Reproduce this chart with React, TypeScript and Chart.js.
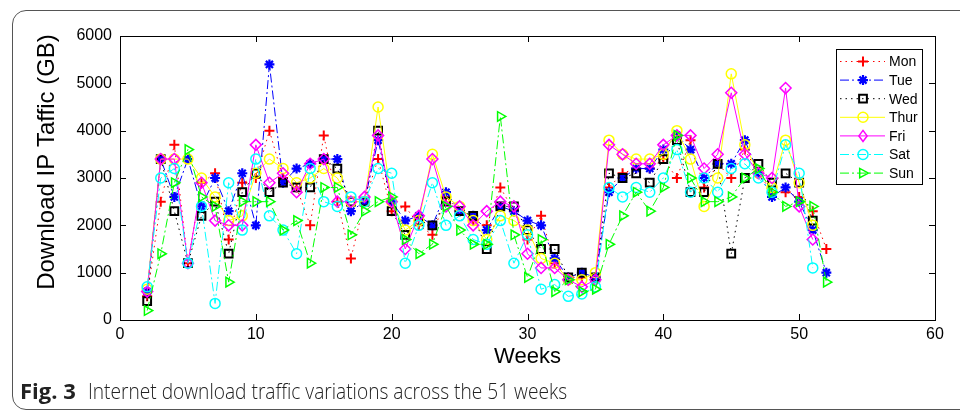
import React, { useEffect, useRef } from "react";
import { Chart, registerables } from "chart.js";

Chart.register(...registerables);

const weeks = [2, 3, 4, 5, 6, 7, 8, 9, 10, 11, 12, 13, 14, 15, 16, 17, 18, 19, 20, 21, 22, 23, 24, 25, 26, 27, 28, 29, 30, 31, 32, 33, 34, 35, 36, 37, 38, 39, 40, 41, 42, 43, 44, 45, 46, 47, 48, 49, 50, 51, 52];

const mon = [500, 2500, 3700, 1200, 2900, 3100, 1700, 2900, 3000, 4000, 3000, 2800, 2000, 3900, 2500, 1300, 2500, 3400, 2300, 2400, 2000, 1800, 2600, 2300, 2100, 2000, 2800, 2300, 1700, 2200, 1200, 900, 900, 900, 2800, 3100, 3200, 3200, 3400, 3000, 3800, 2800, 3300, 3000, 3600, 3100, 2700, 2700, 2600, 2300, 1500];
const tue = [600, 3400, 2600, 3400, 2400, 3000, 2300, 3100, 2000, 5400, 2900, 3200, 3300, 3400, 3400, 2300, 2500, 3800, 2500, 2100, 2200, 2000, 2700, 2300, 2200, 1900, 2400, 2300, 2100, 2000, 1300, 900, 1000, 900, 2700, 3000, 3200, 3200, 3600, 3900, 3600, 3000, 3300, 3300, 3800, 3100, 2600, 2800, 2500, 1900, 1000];
const wed = [400, 3400, 2300, 1200, 2200, 2500, 1400, 2700, 3100, 2700, 2900, 2800, 2800, 3400, 3200, 2500, 2500, 4000, 2300, 1800, 2100, 2000, 2500, 2300, 2200, 1500, 2400, 2400, 1900, 1500, 1500, 900, 1000, 900, 3100, 3000, 3100, 2900, 3400, 3800, 2700, 2700, 3300, 1400, 3000, 3300, 2900, 3100, 2900, 2100, null];
const thur = [650, 3400, 3400, 3400, 3000, 2600, 2100, 2200, 3100, 3400, 3200, 2900, 3000, 3200, 3000, 2500, 2500, 4500, 2500, 1900, 2100, 3500, 2600, 2400, 2100, 1700, 2200, 2100, 1900, 1300, 1200, 850, 850, 1000, 3800, 3500, 3400, 3400, 3500, 4000, 3400, 2400, 3000, 5200, 3700, 3100, 2800, 3800, 2900, 2000, null];
const fri = [600, 3400, 3400, 1200, 2900, 2100, 2000, 2000, 3700, 2900, 3100, 2700, 3300, 3400, 2500, 2500, 2600, 3900, 2500, 1500, 2200, 3400, 2400, 2400, 2000, 2300, 2500, 2400, 1400, 1100, 1100, 850, 700, 850, 3700, 3500, 3300, 3300, 3700, 3900, 3900, 3200, 3500, 4800, 3500, 3100, 3000, 4900, 2400, 1700, null];
const sat = [700, 3000, 3200, 1200, 2400, 350, 2900, 1900, 3400, 2200, 1900, 1400, 3200, 2500, 2400, 2600, 2500, 3200, 3100, 1200, 2000, 2900, 2000, 2200, 1700, 1600, 2100, 1200, 1800, 650, 750, 500, 550, 700, 2800, 2600, 2800, 2700, 3000, 3600, 2700, 3000, 2700, 3200, 3300, 3000, 2700, 3700, 3100, 1100, null];
const sun = [200, 1400, 2900, 3600, 2600, 2400, 800, 2500, 2500, 2500, 1900, 2100, 1200, 2800, 2800, 1800, 2300, 2500, 2600, 1700, 1400, 1600, 2400, 1900, 1600, 1600, 4300, 1800, 900, 1700, 600, 850, 600, 650, 1600, 2200, 2700, 2300, 2800, 3900, 3000, 2500, 2500, 2600, 3000, 3200, 2700, 2400, 2500, 2400, 800];

const xTicks = [0, 10, 20, 30, 40, 50, 60];
const yTicks = [0, 1000, 2000, 3000, 4000, 5000, 6000];

const seriesNames = ["Mon", "Tue", "Wed", "Thur", "Fri", "Sat", "Sun"];

const FONT = "'Liberation Sans', Arial, Helvetica, sans-serif";

type Style = { color: string; dash: number[]; point: any; rot: number; radius: number; pw: number };
const styles: Style[] = [
  { color: "#ff0000", dash: [1.5, 4], point: "cross", rot: 0, radius: 5, pw: 2 },
  { color: "#0000ff", dash: [9, 3, 2, 3], point: "star", rot: 0, radius: 5, pw: 2.2 },
  { color: "#000000", dash: [1.5, 4], point: "rect", rot: 0, radius: 5.5, pw: 2 },
  { color: "#ffff00", dash: [], point: "circle", rot: 0, radius: 5, pw: 1.5 },
  { color: "#ff00ff", dash: [], point: "rectRot", rot: 0, radius: 5.5, pw: 1.5 },
  { color: "#00ffff", dash: [9, 3, 2, 3], point: "circle", rot: 0, radius: 5, pw: 1.5 },
  { color: "#00ff00", dash: [9, 3, 2, 3], point: "triangle", rot: 90, radius: 5.5, pw: 1.5 },
];

function drawMarker(ctx: CanvasRenderingContext2D, st: Style, x: number, y: number) {
  ctx.save();
  ctx.strokeStyle = st.color;
  ctx.lineWidth = st.pw;
  ctx.setLineDash([]);
  const r = st.radius;
  ctx.beginPath();
  if (st.point === "cross") {
    ctx.moveTo(x - r, y); ctx.lineTo(x + r, y);
    ctx.moveTo(x, y - r); ctx.lineTo(x, y + r);
  } else if (st.point === "star") {
    ctx.moveTo(x - r, y); ctx.lineTo(x + r, y);
    ctx.moveTo(x, y - r); ctx.lineTo(x, y + r);
    const d = r * 0.707;
    ctx.moveTo(x - d, y - d); ctx.lineTo(x + d, y + d);
    ctx.moveTo(x - d, y + d); ctx.lineTo(x + d, y - d);
  } else if (st.point === "rect") {
    const s = r * 0.707;
    ctx.rect(x - s, y - s, 2 * s, 2 * s);
  } else if (st.point === "circle") {
    ctx.arc(x, y, r, 0, Math.PI * 2);
  } else if (st.point === "rectRot") {
    ctx.moveTo(x, y - r); ctx.lineTo(x + r * 0.75, y); ctx.lineTo(x, y + r); ctx.lineTo(x - r * 0.75, y); ctx.closePath();
  } else if (st.point === "triangle") {
    ctx.moveTo(x + r, y); ctx.lineTo(x - r * 0.6, y - r * 0.85); ctx.lineTo(x - r * 0.6, y + r * 0.85); ctx.closePath();
  }
  ctx.stroke();
  ctx.restore();
}

const decorPlugin = {
  id: "decor",
  afterDatasetsDraw(chart: any) {
    const { ctx, chartArea } = chart;
    const { left, right, top, bottom } = chartArea;
    const xs = chart.scales.x;
    const ys = chart.scales.y;
    ctx.save();
    ctx.strokeStyle = "#000";
    ctx.lineWidth = 1;
    ctx.setLineDash([]);
    ctx.strokeRect(Math.round(left) + 0.5, Math.round(top) + 0.5, Math.round(right - left), Math.round(bottom - top));
    const tl = 6;
    ctx.beginPath();
    xTicks.forEach((v) => {
      const px = Math.round(xs.getPixelForValue(v)) + 0.5;
      ctx.moveTo(px, bottom); ctx.lineTo(px, bottom - tl);
      ctx.moveTo(px, top); ctx.lineTo(px, top + tl);
    });
    yTicks.forEach((v) => {
      const py = Math.round(ys.getPixelForValue(v)) + 0.5;
      ctx.moveTo(left, py); ctx.lineTo(left + tl, py);
      ctx.moveTo(right, py); ctx.lineTo(right - tl, py);
    });
    ctx.stroke();

    // axis titles
    ctx.fillStyle = "#000";
    ctx.font = "22px " + FONT;
    ctx.textAlign = "center";
    ctx.textBaseline = "middle";
    ctx.fillText("Weeks", (left + right) / 2, 357);
    ctx.save();
    ctx.translate(47, 162);
    ctx.rotate(-Math.PI / 2);
    ctx.font = "24px " + FONT;
    ctx.fillText("Download IP Taffic (GB)", 0, 0);
    ctx.restore();

    // legend
    const lx = 836, ly = 49, lw = 86, lh = 135;
    ctx.fillStyle = "#fff";
    ctx.fillRect(lx, ly, lw, lh);
    ctx.strokeStyle = "#000";
    ctx.lineWidth = 1;
    ctx.strokeRect(lx + 0.5, ly + 0.5, lw, lh);
    ctx.font = "14px " + FONT;
    ctx.textAlign = "left";
    seriesNames.forEach((name, i) => {
      const st = styles[i];
      const cy = ly + 12.5 + i * 18.6;
      ctx.save();
      ctx.strokeStyle = st.color;
      ctx.lineWidth = 1;
      ctx.setLineDash(st.dash);
      ctx.beginPath();
      ctx.moveTo(840, cy);
      ctx.lineTo(885, cy);
      ctx.stroke();
      ctx.restore();
      drawMarker(ctx, st, 863, cy);
      ctx.fillStyle = "#000";
      ctx.fillText(name, 889, cy + 1);
    });
    ctx.restore();
  },
};

const seriesData = [mon, tue, wed, thur, fri, sat, sun];

export default function App() {
  const ref = useRef<HTMLCanvasElement | null>(null);
  useEffect(() => {
    if (!ref.current) return;
    const datasets = seriesData.map((arr, i) => {
      const st = styles[i];
      return {
        label: seriesNames[i],
        data: weeks.map((w, j) => ({ x: w, y: arr[j] })),
        borderColor: st.color,
        backgroundColor: "rgba(0,0,0,0)",
        borderWidth: 1,
        borderDash: st.dash,
        pointStyle: st.point,
        pointRotation: st.rot,
        pointRadius: st.radius,
        pointBorderWidth: st.pw,
        pointBorderColor: st.color,
        pointBackgroundColor: "rgba(0,0,0,0)",
        fill: false,
        tension: 0,
        spanGaps: false,
        order: 6 - i,
      };
    });
    const chart = new Chart(ref.current, {
      type: "line",
      data: { datasets },
      plugins: [decorPlugin],
      options: {
        animation: false,
        responsive: false,
        maintainAspectRatio: false,
        layout: { padding: { left: 0, right: 25, top: 36, bottom: 0 } },
        plugins: { legend: { display: false }, tooltip: { enabled: false } },
        scales: {
          x: {
            type: "linear",
            min: 0,
            max: 60,
            grid: { display: false, tickLength: 0 },
            border: { display: false },
            ticks: {
              stepSize: 10,
              padding: 5,
              color: "#000",
              font: { size: 16, family: FONT },
              maxRotation: 0,
              callback: (v: any) => String(v),
            },
            afterFit: (s: any) => { s.height = 60; },
          },
          y: {
            type: "linear",
            min: 0,
            max: 6000,
            grid: { display: false, tickLength: 0 },
            border: { display: false },
            ticks: {
              stepSize: 1000,
              padding: 8,
              color: "#000",
              font: { size: 16, family: FONT },
              callback: (v: any) => String(v),
            },
            afterFit: (s: any) => { s.width = 120; },
          },
        },
      },
    });
    return () => chart.destroy();
  }, []);

  return (
    <div style={{ position: "absolute", left: 0, top: 0, width: 960, height: 415, overflow: "hidden", background: "#fff" }}>
      <div style={{ position: "absolute", left: 12, top: 10, width: 980, height: 398, border: "1.5px solid #555", borderRadius: 14 }} />
      <canvas ref={ref} width={960} height={380} style={{ position: "absolute", left: 0, top: 0 }} />
      <div style={{ position: "absolute", left: 20, top: 375, fontFamily: "'Open Sans', sans-serif", fontSize: 22, fontWeight: 700, color: "#222", whiteSpace: "nowrap", lineHeight: "30px", transform: "scaleX(1.0)", transformOrigin: "left center" }}>
        Fig. 3
      </div>
      <div style={{ position: "absolute", left: 88, top: 375, fontFamily: "'Open Sans', sans-serif", fontSize: 22, fontWeight: 300, color: "#222", whiteSpace: "nowrap", lineHeight: "30px", transform: "scaleX(0.87)", transformOrigin: "left center" }}>
        Internet download traffic variations across the 51 weeks
      </div>
    </div>
  );
}
